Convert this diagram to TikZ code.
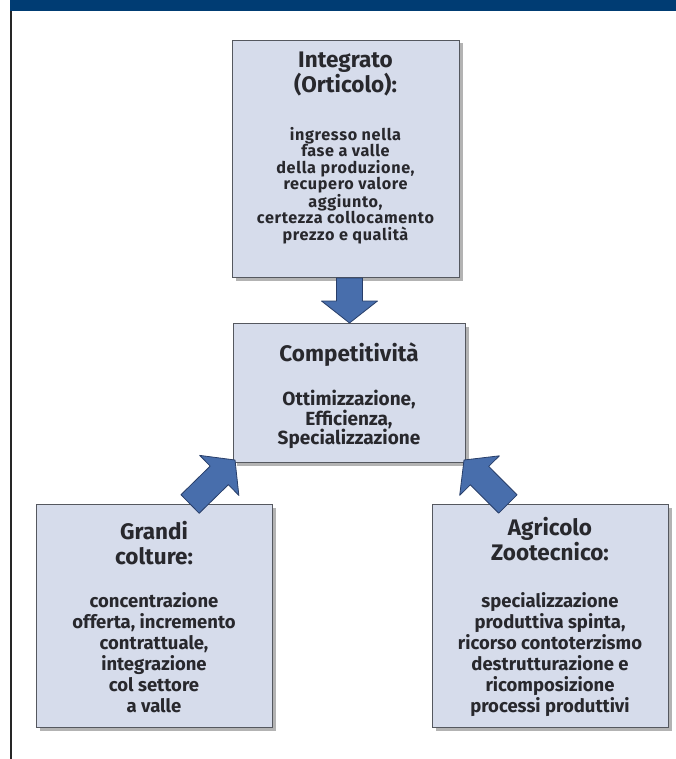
\documentclass[tikz,border=0pt]{standalone}
\usepackage{fontspec}
\setmainfont{Fira Sans}
\usetikzlibrary{calc,shadows}
\definecolor{testata}{RGB}{0,60,115}
\definecolor{riquadro}{RGB}{214,220,235}
\definecolor{bordo}{RGB}{85,88,95}
\definecolor{freccia}{RGB}{72,110,172}
\definecolor{frecciabordo}{RGB}{40,62,105}
\definecolor{testo}{RGB}{40,40,45}
% freccia a blocco da #1 a #2
\newcommand{\freccia}[2]{%
  \coordinate (frh) at ($(#2)!22pt!(#1)$);
  \draw[blocco] ($(#1)!13pt!90:(#2)$) -- ($(frh)!13pt!90:(#2)$)
    -- ($(frh)!28pt!90:(#2)$) -- (#2) -- ($(frh)!28pt!-90:(#2)$)
    -- ($(frh)!13pt!-90:(#2)$) -- ($(#1)!13pt!-90:(#2)$) -- cycle;}
\begin{document}
\begin{tikzpicture}[x=1pt,y=-1pt,
            every node/.style={text=testo}]
            \tikzstyle{riq}=[draw=bordo,fill=riquadro,line width=1pt,anchor=north west,
              drop shadow={shadow xshift=3pt,shadow yshift=-3pt,fill=black!50,opacity=.6}];
            \tikzstyle{titolo}=[font=\fontsize{22.5}{25}\selectfont\bfseries,align=center,inner sep=0pt,anchor=north];
            \tikzstyle{corpo}=[align=center,inner sep=0pt,anchor=north];
            \tikzstyle{blocco}=[fill=freccia,draw=frecciabordo,line width=.8pt,line join=round];
            \useasboundingbox (0,0) rectangle (676,759);
            % testata e filetto
            \fill[testata] (10,0) rectangle (676,11);
            \draw[black!85,line width=2pt] (11,11) -- (11,759);
            % riquadri
            \node[riq,minimum width=227pt,minimum height=237pt](integrato) at (232,40) {};
            \node[riq,minimum width=232pt,minimum height=139pt](compet) at (233,323) {};
            \node[riq,minimum width=236pt,minimum height=223pt](grandi) at (36,504) {};
            \node[riq,minimum width=236pt,minimum height=223pt](agricolo) at (432,504) {};
            % testi
            \node[titolo](integratoT) at (345.5,52) {Integrato\\(Orticolo):};
            \node[corpo,font=\fontsize{16.2}{16.4}\selectfont\bfseries\addfontfeature{LetterSpace=4}](integratoC) at (345.5,127)
              {ingresso nella\\fase a valle\\della produzione,\\recupero valore\\aggiunto,\\certezza collocamento\\prezzo e qualità};
            \node[titolo](competT) at (349,343) {Competitività};
            \node[corpo,font=\fontsize{19}{19.5}\selectfont\bfseries](competC) at (349,390)
              {Ottimizzazione,\\Efficienza,\\Specializzazione};
            \node[titolo](grandiT) at (154,521) {Grandi\\colture:};
            \node[corpo,font=\fontsize{18.5}{21}\selectfont\bfseries](grandiC) at (154,592)
              {concentrazione\\offerta, incremento\\contrattuale,\\integrazione\\col settore\\a valle};
            \node[titolo](agricoloT) at (550,517) {Agricolo\\Zootecnico:};
            \node[corpo,font=\fontsize{18.5}{21}\selectfont\bfseries](agricoloC) at (550,592)
              {specializzazione\\produttiva spinta,\\ricorso contoterzismo\\destrutturazione e\\ricomposizione\\processi produttivi};
            % frecce
            \coordinate (da1) at (compet.north |- integrato.south);
            \coordinate (da2) at ($(grandi.north west)!0.65!(grandi.north east)$);
            \coordinate (a2) at ($(compet.south west)+(2,-3)$);
            \coordinate (da3) at ($(agricolo.north west)!0.32!(agricolo.north east)$);
            \coordinate (a3) at ($(compet.south east)+(-2,-3)$);
            \freccia{da1}{compet.north}
            \freccia{da2}{a2}
            \freccia{da3}{a3}
\end{tikzpicture}
\end{document}
